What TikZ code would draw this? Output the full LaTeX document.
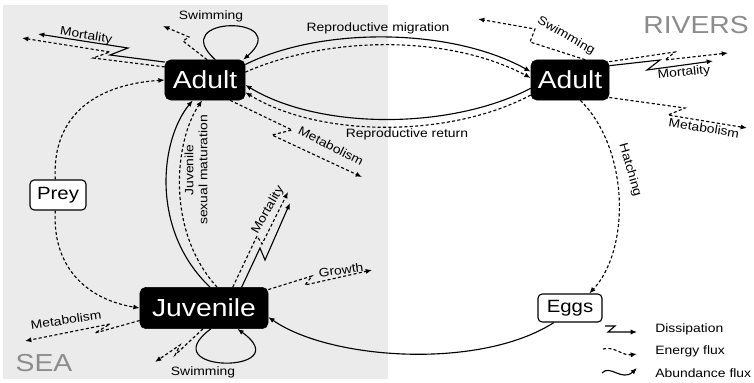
\documentclass[tikz,border=0pt]{standalone}
\usepackage{fontspec}
\setmainfont{Liberation Sans}[FakeStretch=1.15]
\usetikzlibrary{arrows.meta, positioning, calc}
\definecolor{SeaGray}{RGB}{235,235,235}
\definecolor{ZoneGray}{RGB}{140,140,140}

\begin{document}
\begin{tikzpicture}[x=0.025cm, y=-0.025cm,
        stage/.style={rectangle, draw=black, fill=black, text=white, rounded corners=4pt, inner sep=0pt, font=\fontsize{17.5}{20}\selectfont},
        pool/.style={rectangle, draw, fill=white, rounded corners=3pt, inner sep=0pt, line width=0.8pt, font=\fontsize{12.6}{15}\selectfont},
        zone/.style={text=ZoneGray, font=\fontsize{17.5}{20}\selectfont},
        lbl/.style={inner sep=1pt, font=\fontsize{8.6}{10}\selectfont},
        legend/.style={anchor=west, inner sep=0pt, font=\fontsize{8.6}{11}\selectfont},
        abund/.style={line width=0.8pt, -{Latex[length=4.5pt,width=3.6pt]}},
        energy/.style={abund, dash pattern=on 2.2pt off 1.6pt}
    ]
    % sea side
    \fill[SeaGray] (3,5) rectangle (388,379);
    \useasboundingbox (0,0) rectangle (754,382);

    \node[zone] (sea) at (44,363) {SEA};
    \node[zone] (rivers) at (696,25) {RIVERS};

    % stages
    \node[stage, minimum width=2cm, minimum height=1cm] (adS) at (205,80) {Adult};
    \node[stage, minimum width=1.95cm, minimum height=1cm] (adR) at (570,80) {Adult};
    \node[stage, minimum width=3.2cm, minimum height=1.03cm] (juv) at (204,308) {Juvenile};
    \node[pool, minimum width=1.4cm, minimum height=0.75cm] (prey) at (58,195) {Prey};
    \node[pool, minimum width=1.6cm, minimum height=0.7cm] (eggs) at (570,308) {Eggs};

    % free ends of the dissipation fluxes
    \coordinate (mortSa) at (38,34);
    \coordinate (mortSe) at (22,38);
    \coordinate (swimSe) at (163,26);
    \coordinate (metabSe) at (362,177);
    \coordinate (mortJa) at (290,203);
    \coordinate (mortJe) at (288,192);
    \coordinate (growthe) at (372,270);
    \coordinate (metabJe) at (25,341);
    \coordinate (swimJe) at (155,362);
    \coordinate (swimRe) at (478,19);
    \coordinate (mortRa) at (713,61);
    \coordinate (mortRe) at (728,53);
    \coordinate (metabRe) at (747,128);

    % migration between sea and rivers
    \draw[abund] (adS.21) .. controls (320,27) and (450,27) .. (adR.168);
    \draw[energy] (adS.11) .. controls (330,35) and (450,35) .. (adR.177);
    \draw[abund] (adR.192) .. controls (450,130) and (320,130) .. (adS.-7);
    \draw[energy] (adR.201) .. controls (450,138) and (320,138) .. (adS.-17);
    \node[lbl] (migr) at (378,28) {Reproductive migration};
    \node[lbl] (retn) at (407,134) {Reproductive return};

    % prey
    \draw[energy] (prey.100) .. controls (52,120) and (90,85) .. (adS.west);
    \draw[energy] (prey.260) .. controls (52,270) and (90,300) .. (juv.west);

    % maturation
    \draw[abund] (juv.74) .. controls (150,230) and (160,140) .. (adS.-121);
    \draw[energy] (juv.58) .. controls (165,230) and (175,140) .. (adS.-98);
    \node[lbl, rotate=90, align=center] (matur) at (196,170) {Juvenile\\sexual maturation};

    % hatching and recruitment
    \draw[energy] (adR.-63) .. controls (630,150) and (630,250) .. (eggs.37);
    \node[lbl, rotate=-74] (hatch) at (630,170) {Hatching};
    \draw[abund] (eggs.222) .. controls (480,370) and (330,360) .. (juv.-8);

    % swimming loops
    \draw[abund] (adS.63) .. controls (165,15) and (295,15) .. (adS.28);
    \node[lbl] (swimS) at (211,16) {Swimming};
    \draw[abund] (juv.288) .. controls (150,374) and (300,374) .. (juv.328);
    \node[lbl] (swimJ) at (203,372) {Swimming};

    % dissipation, adult at sea
    \draw[abund] (adS.156) -- (110,55) -- (128,48) -- (mortSa);
    \draw[energy] (adS.162) -- (93,58) -- (110,52) -- (mortSe);
    \node[lbl, rotate=-9] (mortSl) at (86,36) {Mortality};
    \draw[energy] (adS.84) -- (183,41) -- (189,37) -- (swimSe);
    \draw[energy] (adS.-39) -- (292,130) -- (272,135) -- (metabSe);
    \node[lbl, rotate=-27] (metabSl) at (331,146) {Metabolism};

    % dissipation, juvenile
    \draw[abund] (juv.29) -- (260,248) -- (265,260) -- (mortJa);
    \draw[energy] (juv.36) -- (257,236) -- (262,244) -- (mortJe);
    \node[lbl, rotate=60] (mortJl) at (268,210) {Mortality};
    \draw[energy] (juv.16) -- (312,276) -- (305,285) -- (growthe);
    \node[lbl, rotate=8] (growl) at (341,270) {Growth};
    \draw[energy] (juv.191) -- (95,333) -- (110,324) -- (metabJe);
    \node[lbl, rotate=8] (metabJl) at (66,320) {Metabolism};
    \draw[energy] (juv.267) -- (175,355) -- (180,345) -- (swimJe);

    % dissipation, adult in rivers
    \draw[energy] (adR.53) -- (530,42) -- (535,29) -- (swimRe);
    \node[lbl, rotate=-30] (swimRl) at (566,36) {Swimming};
    \draw[abund] (adR.20) -- (660,60) -- (647,70) -- (mortRa);
    \draw[energy] (adR.25) -- (675,52) -- (665,60) -- (mortRe);
    \node[lbl, rotate=6] (mortRl) at (684,73) {Mortality};
    \draw[energy] (adR.-24) -- (685,108) -- (668,115) -- (metabRe);
    \node[lbl, rotate=-9] (metabRl) at (704,128) {Metabolism};

    % legend
    \node[legend] (lgDis) at (655,329) {Dissipation};
    \node[legend] (lgEn) at (655,351) {Energy flux};
    \node[legend] (lgAb) at (655,373) {Abundance flux};
    \draw[abund] (605,326) -- (615,326) -- (608,332) -- (637,332);
    \draw[energy] (603,349) .. controls (615,346) and (622,356) .. (637,354);
    \draw[abund] (602,373) .. controls (610,364) and (622,382) .. (637,368);
\end{tikzpicture}
\end{document}
